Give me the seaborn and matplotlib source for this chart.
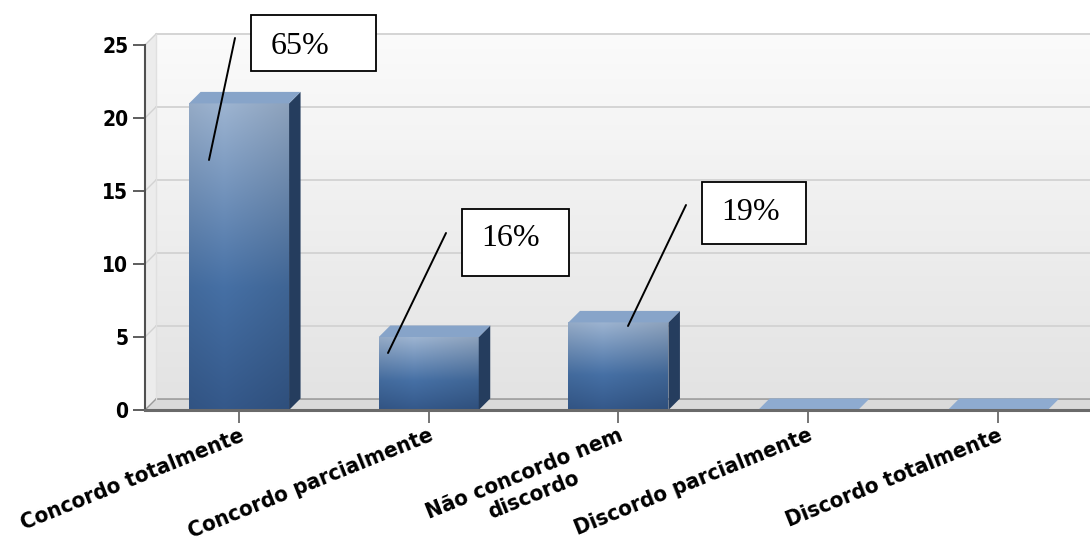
import numpy as np
import pandas as pd
import seaborn as sns
import matplotlib
matplotlib.use("Agg")
import matplotlib.pyplot as plt
from matplotlib.patches import Polygon, Rectangle
from matplotlib.lines import Line2D
from matplotlib.colors import to_rgb
from matplotlib import font_manager as fm

# ---------------- data ----------------
categories = ["Concordo totalmente", "Concordo parcialmente",
              "Não concordo nem\ndiscordo", "Discordo parcialmente",
              "Discordo totalmente"]
counts = [21, 5, 6, 0, 0]
percent_labels = ["65%", "16%", "19%"]
yticks = [0, 5, 10, 15, 20, 25]

# ---------------- style ----------------
sns.set_style("white")
ttf = fm.fontManager.ttflist
avail = {f.name for f in ttf}

# find a condensed/narrow bold sans face if one is installed
cond_path = None
for f in ttf:
    nm = (f.name + " " + str(f.stretch)).lower()
    if (("narrow" in nm or "condensed" in nm) and "serif" not in f.name.lower()
            and "mono" not in f.name.lower()):
        if str(f.weight) in ("bold", "700") or (isinstance(f.weight, int) and f.weight >= 600):
            if "italic" not in f.style:
                cond_path = f.fname
                break
if cond_path is not None:
    lab_font = fm.FontProperties(fname=cond_path)
    lab_scale = 1.0
else:
    lab_font = fm.FontProperties(family=[n for n in ["Liberation Sans", "Arial"] if n in avail] + ["DejaVu Sans"],
                                 weight="bold")
    lab_scale = 0.86
serif = [f for f in ["Liberation Serif", "Times New Roman"] if f in avail] + ["DejaVu Serif"]
plt.rcParams["font.family"] = [n for n in ["Liberation Sans"] if n in avail] + ["DejaVu Sans"]
plt.rcParams["text.color"] = "black"

W, H = 1090, 546
fig = plt.figure(figsize=(W / 100, H / 100), dpi=100)
fig.patch.set_facecolor("white")
ax = fig.add_axes([145 / W, (H - 410) / H, (W - 145) / W, (410 - 45) / H])
ax.set_facecolor("none")

df = pd.DataFrame({"cat": categories, "n": counts})
sns.barplot(data=df, x="cat", y="n", color="#4a70a3", width=0.527,
            saturation=1, ax=ax, zorder=3)
bar_patches = list(ax.patches)

x0, x1 = -0.496, 4.486
ax.set_xlim(x0, x1)
ax.set_ylim(0, 25)
ax.set_autoscale_on(False)

# depth offsets (3D look) in data units
dx = 11.5 / 189.7
dy = 11.5 / 14.6
ytop = yticks[-1] + dy

# back wall with vertical gradient
g = np.linspace(0, 1, 256)[:, None]
top_c = np.array(to_rgb("#fbfbfb"))
bot_c = np.array(to_rgb("#e3e3e3"))
wall = (top_c * (1 - g) + bot_c * g)[:, None, :].repeat(2, axis=1)
ax.imshow(wall, extent=[x0 + dx, x1, dy, ytop], aspect="auto",
          zorder=0, clip_on=False, interpolation="bilinear")
# left side wall
ax.add_patch(Polygon([(x0, 0), (x0 + dx, dy), (x0 + dx, ytop), (x0, yticks[-1])],
                     closed=True, facecolor="#ececec", edgecolor="none",
                     zorder=0.5, clip_on=False))
# floor
ax.add_patch(Polygon([(x0, 0), (x1, 0), (x1, dy), (x0 + dx, dy)], closed=True,
                     facecolor="#dadada", edgecolor="none", zorder=0.6, clip_on=False))
ax.plot([x0 + dx, x1], [dy, dy], color="#9a9a9a", lw=1.2, zorder=0.7, clip_on=False)

# gridlines on back wall and left wall
for yv in yticks[1:]:
    ax.plot([x0 + dx, x1], [yv + dy, yv + dy], color="#d2d2d2", lw=1.3,
            zorder=0.8, clip_on=False)
    ax.plot([x0, x0 + dx], [yv, yv + dy], color="#d2d2d2", lw=1.0,
            zorder=0.8, clip_on=False)
ax.plot([x0, x0 + dx], [0, dy], color="#9a9a9a", lw=1.0, zorder=0.8, clip_on=False)
ax.plot([x0 + dx, x0 + dx], [dy, ytop], color="#e0e0e0", lw=1.0, zorder=0.8, clip_on=False)

# bars: gradient front face, dark side face, light top face
c_top = np.array(to_rgb("#9db4d1"))
c_mid = np.array(to_rgb("#4670a5"))
c_bot = np.array(to_rgb("#34588a"))
t = np.linspace(0, 1, 200)
col = np.where(t[:, None] < 0.6,
               c_top * (1 - t[:, None] / 0.6) + c_mid * (t[:, None] / 0.6),
               c_mid * (1 - (t[:, None] - 0.6) / 0.4) + c_bot * ((t[:, None] - 0.6) / 0.4))
xs = np.linspace(0, 1, 60)
hshade = 1.0 - 0.10 * np.abs(xs - 0.35) / 0.65
front_img = np.clip(col[:, None, :] * hshade[None, :, None], 0, 1)

for p in bar_patches:
    x, w, h = p.get_x(), p.get_width(), p.get_height()
    p.set_edgecolor("none")
    if h > 0:
        im = ax.imshow(front_img, extent=[x, x + w, 0, h], aspect="auto",
                       zorder=3.1, interpolation="bilinear")
        im.set_clip_path(p)
        ax.add_patch(Polygon([(x + w, 0), (x + w + dx, dy), (x + w + dx, h + dy), (x + w, h)],
                             closed=True, facecolor="#253d5e", edgecolor="none", zorder=3.2))
        ax.add_patch(Polygon([(x, h), (x + dx, h + dy), (x + w + dx, h + dy), (x + w, h)],
                             closed=True, facecolor="#87a4c9", edgecolor="none", zorder=3.2))
    else:
        p.set_visible(False)
        ax.add_patch(Polygon([(x, 0), (x + dx, dy), (x + w + dx, dy), (x + w, 0)],
                             closed=True, facecolor="#8eabd0", edgecolor="none", zorder=3.2))

# axes decoration
for s in ["top", "right"]:
    ax.spines[s].set_visible(False)
ax.spines["left"].set_color("#505050")
ax.spines["left"].set_linewidth(1.5)
ax.spines["bottom"].set_color("#6a6a6a")
ax.spines["bottom"].set_linewidth(2.2)
ax.spines["bottom"].set_zorder(4)

ax.set_yticks(yticks)
ax.set_yticklabels([str(v) for v in yticks])
for tl in ax.get_yticklabels():
    tl.set_fontproperties(lab_font)
    tl.set_fontsize(15 * lab_scale)
    tl.set_color("black")
ax.tick_params(axis="y", length=9, width=1.3, color="#505050", pad=3, left=True)
ax.set_xticks(range(len(categories)))
ax.set_xticklabels(categories, rotation=22, ha="right", va="top",
                   rotation_mode="anchor", multialignment="center")
for tl in ax.get_xticklabels():
    tl.set_fontproperties(lab_font)
    tl.set_fontsize(16 * lab_scale)
    tl.set_color("black")
ax.tick_params(axis="x", length=9, width=1.3, color="#6a6a6a", pad=2, bottom=True)
ax.set_xlabel("")
ax.set_ylabel("")

# callout boxes (overlay, figure pixel coordinates)
def fx(xp):
    return xp / W

def fy(yp):
    return 1 - yp / H

boxes = [(251, 15, 376, 71), (462, 209, 569, 276), (702, 182, 806, 244)]
text_pos = [(300, 46), (511, 239), (751, 212)]
leaders = [((235, 38), (209, 160)), ((446, 233), (388, 353)), ((686, 205), (628, 326))]
for lab, (bx0, by0, bx1, by1), (tx, ty), ((lx0, ly0), (lx1, ly1)) in zip(
        percent_labels, boxes, text_pos, leaders):
    fig.add_artist(Rectangle((fx(bx0), fy(by1)), fx(bx1) - fx(bx0), fy(by0) - fy(by1),
                             transform=fig.transFigure, facecolor="white",
                             edgecolor="black", lw=1.3, zorder=10))
    fig.text(fx(tx), fy(ty), lab, family=serif, fontsize=23, ha="center",
             va="center", color="black", zorder=11)
    fig.add_artist(Line2D([fx(lx0), fx(lx1)], [fy(ly0), fy(ly1)],
                          transform=fig.transFigure, color="black", lw=1.4, zorder=10))

fig.savefig("out.png", dpi=100)
